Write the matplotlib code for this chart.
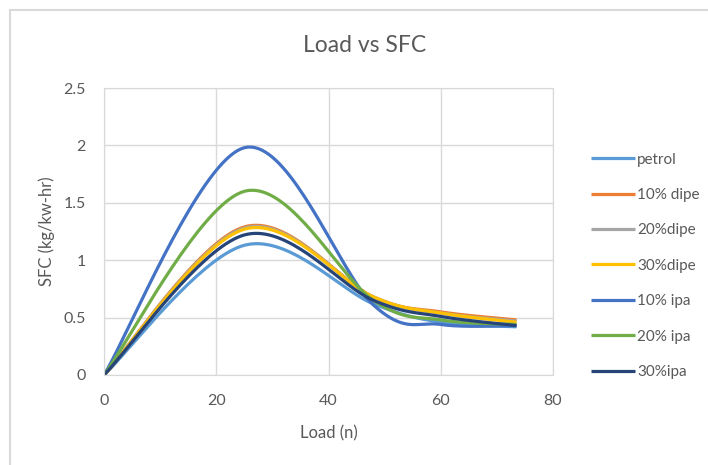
import numpy as np
import matplotlib
matplotlib.use("Agg")
import matplotlib.pyplot as plt
from matplotlib.patches import Rectangle

plt.rcParams['font.family'] = ['Lato', 'DejaVu Sans']

load = [0, 25, 48, 60, 73.5]
series_names = ["petrol", "10% dipe", "20%dipe", "30%dipe", "10% ipa", "20% ipa", "30%ipa"]
petrol   = [0, 1.13, 0.62, 0.46, 0.42]
dipe10   = [0, 1.29, 0.68, 0.55, 0.48]
dipe20   = [0, 1.28, 0.68, 0.54, 0.47]
dipe30   = [0, 1.27, 0.68, 0.54, 0.46]
ipa10    = [0, 1.98, 0.61, 0.44, 0.43]
ipa20    = [0, 1.60, 0.65, 0.48, 0.44]
ipa30    = [0, 1.22, 0.65, 0.51, 0.43]
values = [petrol, dipe10, dipe20, dipe30, ipa10, ipa20, ipa30]
colors = ["#5B9BD5", "#ED7D31", "#A5A5A5", "#FFC000", "#4472C4", "#70AD47", "#264478"]


def excel_smooth(x, y, n=40):
    P = np.column_stack([x, y]).astype(float)
    m = len(P)
    out = []
    for i in range(m - 1):
        p0 = P[i - 1] if i > 0 else P[i]
        p1 = P[i]
        p2 = P[i + 1]
        p3 = P[i + 2] if i + 2 < m else P[i + 1]
        c1 = p1 + (p2 - p0) / 6.0
        c2 = p2 - (p3 - p1) / 6.0
        t = np.linspace(0, 1, n)[:, None]
        seg = ((1 - t) ** 3) * p1 + 3 * ((1 - t) ** 2) * t * c1 + 3 * (1 - t) * t ** 2 * c2 + t ** 3 * p2
        if i > 0:
            seg = seg[1:]
        out.append(seg)
    out = np.vstack(out)
    return out[:, 0], out[:, 1]


fig = plt.figure(figsize=(7.08, 4.65), dpi=100)
fig.patches.append(Rectangle((10 / 708, -0.01), 1.0, 1 - 10 / 465 + 0.01, transform=fig.transFigure,
                             fill=False, edgecolor="#D9D9D9", linewidth=1.5))
ax = fig.add_axes([104 / 708, 1 - 375 / 465, (553 - 104) / 708, (375 - 88) / 465])

for name, vals, c in zip(series_names, values, colors):
    xs, ys = excel_smooth(load, vals)
    ax.plot(xs, ys, color=c, lw=2.3, label=name, solid_capstyle="butt")

ax.set_xlim(0, 80)
ax.set_ylim(0, 2.5)
ax.set_xticks([0, 20, 40, 60, 80])
ax.set_yticks([0, 0.5, 1, 1.5, 2, 2.5])
ax.set_yticklabels(["0", "0.5", "1", "1.5", "2", "2.5"])
ax.grid(True, color="#D9D9D9", lw=1)
ax.set_axisbelow(True)
for s in ax.spines.values():
    s.set_color("#D9D9D9")
ax.tick_params(length=0, colors="#595959", labelsize=11.5)
ax.tick_params(axis="x", pad=14)
ax.tick_params(axis="y", pad=13)
ax.set_xlabel("Load (n)", fontsize=12, color="#595959", labelpad=12)
ax.set_ylabel("SFC (kg/kw-hr)", fontsize=12, color="#595959", labelpad=6)
fig.text(365 / 708, 1 - 45 / 465, "Load vs SFC", ha="center", va="center", fontsize=16.5, color="#595959")

leg = fig.legend(loc="upper left", bbox_to_anchor=(583 / 708, 1 - 145 / 465), frameon=False,
                 fontsize=11, labelspacing=1.4, handlelength=2.9, handletextpad=0.15, borderpad=0)
for t in leg.get_texts():
    t.set_color("#595959")

fig.savefig("out.png", dpi=100)
